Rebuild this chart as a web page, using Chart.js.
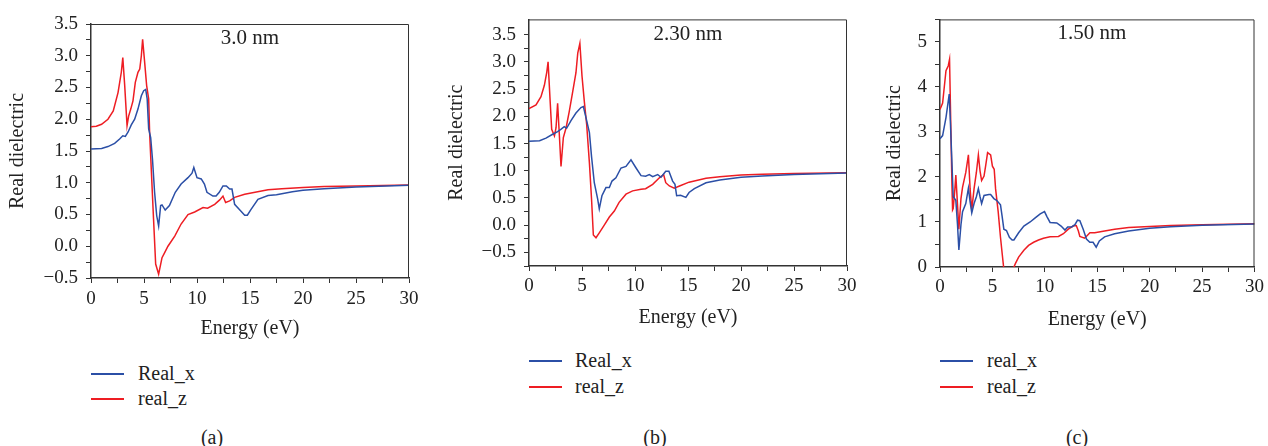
<!DOCTYPE html>
<html>
<head>
<meta charset="utf-8">
<script src="https://cdn.jsdelivr.net/npm/chart.js@4.4.0/dist/chart.umd.min.js"></script>
<style>
    body { margin: 0; background: #fff; width: 1268px; height: 446px; position: relative; overflow: hidden; font-family: "Times New Roman", "Liberation Serif", "DejaVu Serif", serif; color: #222; }
    canvas { position: absolute; top: 0; }
    .key { position: absolute; font-size: 20px; line-height: 24px; white-space: nowrap; }
    .swatch { position: absolute; width: 33px; height: 2px; }
    .cap { position: absolute; font-size: 20px; line-height: 24px; width: 40px; text-align: center; }
</style>
</head>
<body>
<canvas id="panel_a" width="425" height="345" style="left:0px"></canvas>
<canvas id="panel_b" width="425" height="334" style="left:440px"></canvas>
<canvas id="panel_c" width="398" height="336" style="left:870px"></canvas>

<div class="swatch" style="left:91px;top:373px;background:#2b4fa6"></div>
<div class="key" style="left:138px;top:361px">Real_x</div>
<div class="swatch" style="left:91px;top:398px;background:#ee1d23"></div>
<div class="key" style="left:138px;top:386px">real_z</div>

<div class="swatch" style="left:529px;top:360px;background:#2b4fa6"></div>
<div class="key" style="left:575px;top:348px">Real_x</div>
<div class="swatch" style="left:529px;top:386px;background:#ee1d23"></div>
<div class="key" style="left:575px;top:374px">real_z</div>

<div class="swatch" style="left:940px;top:360px;background:#2b4fa6"></div>
<div class="key" style="left:987px;top:348px">real_x</div>
<div class="swatch" style="left:940px;top:386px;background:#ee1d23"></div>
<div class="key" style="left:987px;top:374px">real_z</div>

<div class="cap" style="left:192px;top:425px">(a)</div>
<div class="cap" style="left:635px;top:425px">(b)</div>
<div class="cap" style="left:1057px;top:425px">(c)</div>

<script>
// (a) 3.0 nm
var energy_a_x = [0, 0.5, 1, 1.6, 2.23, 2.7, 3.0, 3.24, 3.5, 3.8, 4.12, 4.43, 4.75, 4.97, 5.16, 5.3, 5.44, 5.63, 5.8, 6.0, 6.2, 6.38, 6.57, 6.7, 7.0, 7.4, 7.95, 8.5, 9.15, 9.53, 9.7, 10.0, 10.4, 10.7, 10.94, 11.5, 11.8, 12.1, 12.45, 12.77, 13.08, 13.3, 13.55, 14.0, 14.5, 14.75, 15.1, 15.75, 16.7, 17.5, 19, 20, 22, 25, 30];
var real_a_x = [1.53, 1.535, 1.54, 1.57, 1.62, 1.69, 1.74, 1.73, 1.80, 1.91, 2.0, 2.16, 2.37, 2.45, 2.47, 2.32, 1.85, 1.71, 1.37, 0.85, 0.48, 0.32, 0.64, 0.65, 0.57, 0.64, 0.85, 0.98, 1.08, 1.15, 1.24, 1.08, 1.06, 0.98, 0.85, 0.79, 0.79, 0.85, 0.95, 0.95, 0.90, 0.90, 0.66, 0.58, 0.49, 0.49, 0.58, 0.74, 0.80, 0.81, 0.86, 0.88, 0.905, 0.935, 0.96];
var energy_a_z = [0, 0.5, 1, 1.6, 2.1, 2.55, 2.86, 3.0, 3.18, 3.4, 3.55, 3.75, 3.96, 4.18, 4.43, 4.6, 4.75, 4.87, 5.06, 5.25, 5.44, 5.53, 5.7, 5.9, 6.1, 6.38, 6.7, 6.95, 7.26, 7.9, 8.5, 9.15, 9.78, 10.57, 11.0, 11.67, 12.14, 12.45, 12.7, 13.08, 13.55, 14.5, 16.7, 18, 20, 22, 25, 30];
var real_a_z = [1.88, 1.89, 1.92, 2.0, 2.13, 2.42, 2.74, 2.97, 2.53, 1.90, 2.05, 2.16, 2.29, 2.58, 2.74, 2.79, 3.0, 3.26, 2.9, 2.53, 2.32, 1.79, 1.16, 0.43, -0.28, -0.44, -0.18, -0.10, 0.0, 0.16, 0.35, 0.50, 0.54, 0.61, 0.60, 0.66, 0.73, 0.79, 0.69, 0.715, 0.77, 0.82, 0.89, 0.905, 0.925, 0.94, 0.95, 0.965];

// (b) 2.30 nm
var energy_b_x = [0, 1, 1.6, 2.23, 2.7, 3.0, 3.33, 3.55, 3.96, 4.43, 4.9, 5.13, 5.38, 5.7, 5.9, 6.16, 6.48, 6.63, 6.88, 7.26, 7.58, 7.83, 8.2, 8.68, 9.15, 9.62, 10.1, 10.57, 11.0, 11.35, 11.67, 12.14, 12.45, 12.9, 13.2, 13.55, 13.77, 13.93, 14.3, 14.8, 15.1, 15.6, 16.7, 18, 20, 22, 25, 30];
var real_b_x = [1.54, 1.55, 1.60, 1.67, 1.72, 1.76, 1.81, 1.78, 1.92, 2.06, 2.16, 2.18, 1.97, 1.70, 1.26, 0.78, 0.48, 0.30, 0.54, 0.69, 0.69, 0.81, 0.87, 1.05, 1.08, 1.20, 1.05, 0.91, 0.90, 0.93, 0.89, 0.93, 0.88, 0.99, 0.99, 0.81, 0.75, 0.54, 0.55, 0.51, 0.60, 0.67, 0.78, 0.83, 0.88, 0.905, 0.93, 0.96];
var energy_b_z = [0, 0.66, 1.13, 1.45, 1.67, 1.8, 1.98, 2.14, 2.4, 2.55, 2.7, 2.86, 3.02, 3.24, 3.5, 3.8, 4.12, 4.43, 4.6, 4.8, 5.0, 5.22, 5.44, 5.7, 5.9, 6.07, 6.32, 6.63, 7.1, 7.58, 8.05, 8.5, 9.15, 9.78, 10.57, 11.0, 11.67, 12.3, 12.7, 12.9, 13.24, 13.7, 14.2, 15.1, 16.7, 18, 20, 22, 25, 30];
var real_b_z = [2.14, 2.21, 2.36, 2.57, 2.80, 3.0, 2.33, 1.76, 1.64, 1.79, 2.24, 1.67, 1.08, 1.61, 1.79, 2.09, 2.45, 2.8, 3.16, 3.34, 2.74, 2.27, 1.85, 1.14, 0.48, -0.18, -0.23, -0.14, 0.0, 0.15, 0.26, 0.42, 0.57, 0.63, 0.66, 0.67, 0.75, 0.87, 0.93, 0.78, 0.72, 0.68, 0.72, 0.79, 0.86, 0.89, 0.92, 0.935, 0.95, 0.965];

// (c) 1.50 nm
var energy_c_x = [0, 0.25, 0.57, 0.88, 1.0, 1.14, 1.26, 1.51, 1.67, 1.8, 2.0, 2.15, 2.46, 2.71, 2.87, 3.03, 3.25, 3.47, 3.66, 3.82, 3.97, 4.2, 4.67, 4.83, 5.14, 5.4, 5.77, 5.93, 6.09, 6.34, 6.62, 6.88, 7.05, 7.5, 8.0, 8.6, 9.08, 9.56, 9.97, 10.2, 10.5, 11.14, 11.55, 11.92, 12.18, 12.56, 12.87, 13.12, 13.34, 13.66, 13.97, 14.29, 14.6, 14.9, 15.2, 15.7, 16.66, 18, 20, 22, 25, 30];
var real_c_x = [2.85, 2.92, 3.32, 3.84, 3.17, 2.31, 1.56, 1.48, 0.94, 0.38, 0.94, 1.23, 1.41, 1.75, 1.45, 1.20, 1.41, 1.56, 1.74, 1.56, 1.41, 1.59, 1.61, 1.61, 1.52, 1.48, 1.38, 1.12, 0.84, 0.81, 0.66, 0.60, 0.60, 0.76, 0.91, 1.0, 1.09, 1.18, 1.23, 1.12, 0.99, 0.98, 0.91, 0.82, 0.89, 0.89, 0.94, 1.04, 1.03, 0.84, 0.62, 0.55, 0.55, 0.44, 0.58, 0.67, 0.74, 0.80, 0.86, 0.895, 0.93, 0.955];
var energy_c_z = [0, 0.25, 0.57, 0.79, 0.91, 1.04, 1.14, 1.2, 1.26, 1.42, 1.51, 1.67, 1.8, 2.0, 2.15, 2.46, 2.71, 2.87, 3.03, 3.25, 3.47, 3.66, 3.82, 3.97, 4.2, 4.35, 4.54, 4.83, 5.0, 5.17, 5.3, 5.55, 5.77, 5.93, 6.09, 6.3, 6.6, 6.9, 7.05, 7.2, 7.5, 8.0, 8.45, 8.93, 9.4, 9.87, 10.5, 11.3, 11.77, 12.24, 12.7, 13.0, 13.2, 13.34, 13.8, 14.3, 14.76, 15.7, 16.66, 18, 20, 22, 25, 30];
var real_c_z = [3.50, 3.64, 4.36, 4.47, 4.61, 3.03, 1.81, 1.27, 1.30, 1.73, 2.04, 1.38, 0.84, 1.52, 1.77, 2.1, 2.49, 1.74, 1.27, 1.74, 2.1, 2.49, 2.13, 1.92, 2.02, 2.24, 2.54, 2.49, 2.24, 2.17, 1.74, 1.23, 0.66, 0.30, -0.05, -0.3, -0.25, -0.08, 0.0, 0.08, 0.22, 0.37, 0.48, 0.55, 0.60, 0.64, 0.67, 0.68, 0.74, 0.84, 0.91, 0.92, 0.80, 0.68, 0.64, 0.76, 0.76, 0.80, 0.84, 0.875, 0.90, 0.92, 0.94, 0.96];

var blue = '#2b4fa6';
var red = '#ee1d23';
var axisColor = '#333';
var serif = '"Times New Roman", "Liberation Serif", "DejaVu Serif", serif';

Chart.defaults.font.family = serif;
Chart.defaults.color = '#222';

function points(energy, values) {
    return energy.map(function(e, i) {
        return {x: e, y: values[i]};
    });
}

function on_step(v, step) {
    return Math.abs(v / step - Math.round(v / step)) < 1e-6;
}

var boxPlugin = {
    id: 'box',
    afterDraw: function(chart, args, opts) {
        var a = chart.chartArea, ctx = chart.ctx;
        ctx.save();
        ctx.strokeStyle = axisColor;
        ctx.lineWidth = 1;
        ctx.beginPath();
        ctx.moveTo(a.left, a.top + 0.5);
        ctx.lineTo(a.right - 0.5, a.top + 0.5);
        ctx.lineTo(a.right - 0.5, a.bottom);
        ctx.stroke();
        if (opts.text) {
            ctx.fillStyle = '#222';
            ctx.font = '21px ' + serif;
            ctx.textAlign = 'center';
            ctx.textBaseline = 'middle';
            ctx.fillText(opts.text, chart.scales.x.getPixelForValue(opts.x), chart.scales.y.getPixelForValue(opts.y));
        }
        ctx.restore();
    }
};

function draw_panel(id, p) {
    var $canvas = document.getElementById(id);
    if (!$canvas) {
        return;
    }
    new Chart($canvas.getContext('2d'), {
        type: 'line',
        data: {
            datasets: [{
                label: p.names[0],
                data: points(p.ex, p.vx),
                borderColor: blue,
                borderWidth: 1.5
            }, {
                label: p.names[1],
                data: points(p.ez, p.vz),
                borderColor: red,
                borderWidth: 1.5
            }]
        },
        options: {
            responsive: false,
            animation: false,
            parsing: false,
            elements: { point: { radius: 0 }, line: { tension: 0 } },
            layout: { padding: { left: 0, top: p.top, right: p.right, bottom: 0 } },
            plugins: {
                legend: { display: false },
                tooltip: { enabled: false },
                box: { text: p.label, x: p.labelAt[0], y: p.labelAt[1] }
            },
            scales: {
                x: {
                    type: 'linear',
                    min: 0,
                    max: 30,
                    afterFit: function(s) { s.height = p.xHeight; },
                    border: { color: axisColor, width: 1.5 },
                    grid: { drawOnChartArea: false, tickLength: 5, color: axisColor },
                    ticks: {
                        stepSize: 2.5,
                        autoSkip: false,
                        maxRotation: 0,
                        padding: p.xPad,
                        font: { size: 19 },
                        callback: function(v) { return on_step(v, 5) ? String(Math.round(v)) : ''; }
                    },
                    title: { display: true, text: 'Energy (eV)', font: { size: 20 }, padding: { top: 0, bottom: 4 } }
                },
                y: {
                    min: p.ymin,
                    max: p.ymax,
                    afterFit: function(s) { s.width = p.yWidth; },
                    afterBuildTicks: function(s) {
                        s.ticks = s.ticks.filter(function(t) { return on_step(t.value, p.minor); });
                    },
                    border: { color: axisColor, width: 1.5 },
                    grid: { drawOnChartArea: false, tickLength: 5, color: axisColor },
                    ticks: {
                        stepSize: p.minor,
                        autoSkip: false,
                        padding: 8,
                        font: { size: 19 },
                        callback: function(v) {
                            if (!on_step(v, p.major)) {
                                return '';
                            }
                            var r = Math.round(v / p.major) * p.major;
                            return r.toFixed(p.digits).replace('-', '\u2212');
                        }
                    },
                    title: { display: true, text: 'Real dielectric', font: { size: 20 }, padding: { top: p.yTitlePad, bottom: 0 } }
                }
            }
        },
        plugins: [boxPlugin]
    });
}

draw_panel('panel_a', {
    names: ['Real_x', 'real_z'], ex: energy_a_x, vx: real_a_x, ez: energy_a_z, vz: real_a_z,
    ymin: -0.5, ymax: 3.5, minor: 0.25, major: 0.5, digits: 1,
    label: '3.0 nm', labelAt: [15, 3.265],
    top: 24, right: 16, yWidth: 91, xHeight: 67, xPad: 5, yTitlePad: 6
});
draw_panel('panel_b', {
    names: ['Real_x', 'real_z'], ex: energy_b_x, vx: real_b_x, ez: energy_b_z, vz: real_b_z,
    ymin: -0.75, ymax: 3.78, minor: 0.25, major: 0.5, digits: 1,
    label: '2.30 nm', labelAt: [15, 3.51],
    top: 12, right: 18, yWidth: 89, xHeight: 68, xPad: 4, yTitlePad: 5
});
draw_panel('panel_c', {
    names: ['real_x', 'real_z'], ex: energy_c_x, vx: real_c_x, ez: energy_c_z, vz: real_c_z,
    ymin: 0, ymax: 5.5, minor: 0.5, major: 1, digits: 0,
    label: '1.50 nm', labelAt: [14.5, 5.18],
    top: 12, right: 10, yWidth: 70, xHeight: 69, xPad: 4, yTitlePad: 13
});
</script>
</body>
</html>
